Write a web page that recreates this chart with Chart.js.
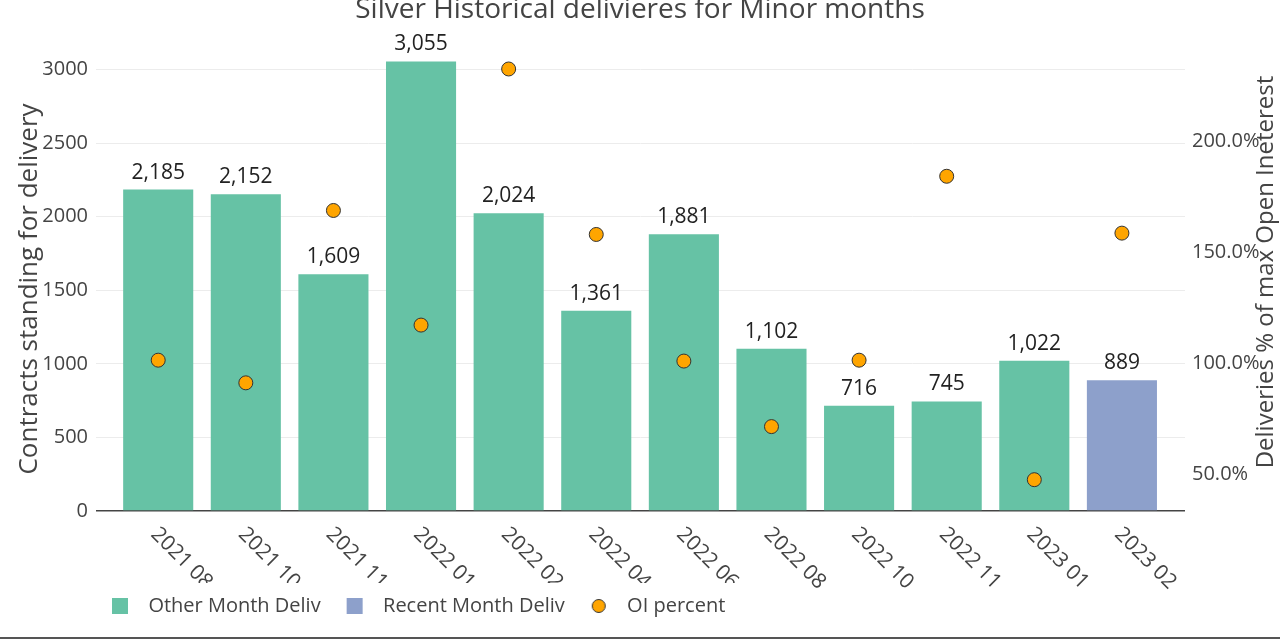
<!DOCTYPE html>
<html>
<head>
<meta charset="utf-8">
<script src="https://cdn.jsdelivr.net/npm/chart.js@4.4.0/dist/chart.umd.min.js"></script>
<style>
  html, body { margin: 0; padding: 0; background: #fff; }
  #wrap { position: relative; width: 1280px; height: 641px; }
  #bottomLine { position: absolute; left: 0; top: 637px; width: 1280px; height: 2px; background: #555; }
</style>
</head>
<body>
<div id="wrap">
  <canvas id="myChart" width="1280" height="641"></canvas>
  <div id="bottomLine"></div>
</div>
<script>
const months = ['2021 08', '2021 10', '2021 11', '2022 01', '2022 02', '2022 04',
                '2022 06', '2022 08', '2022 10', '2022 11', '2023 01', '2023 02'];
const otherDeliv = [2185, 2152, 1609, 3055, 2024, 1361, 1881, 1102, 716, 745, 1022, null];
const recentDeliv = [null, null, null, null, null, null, null, null, null, null, null, 889];
const oiPercent = [101.4, 91.2, 168.8, 117.2, 232.5, 158.0, 101.0, 71.5, 101.4, 184.2, 47.6, 158.6];
const leftTicks = [0, 500, 1000, 1500, 2000, 2500, 3000];
const rightTicks = [50, 100, 150, 200];

const FONT = '"Open Sans", "Noto Sans", sans-serif';
const GREEN = '#66c2a5';
const BLUE = '#8da0cb';
const ORANGE = '#ffa500';
const LEFT_TITLE = 'Contracts standing for delivery';
const RIGHT_TITLE = 'Deliveries % of max Open Ineterest';

// points for linear x axis
const toXY = arr => arr.map((v, i) => ({ x: i, y: v }));

// legend marker for the OI dots
const dotImg = document.createElement('canvas');
dotImg.width = 16; dotImg.height = 16;
(function () {
  const c = dotImg.getContext('2d');
  c.beginPath();
  c.arc(8, 8, 6.5, 0, Math.PI * 2);
  c.fillStyle = ORANGE;
  c.fill();
  c.lineWidth = 1;
  c.strokeStyle = '#333';
  c.stroke();
})();

// value labels above bars
const barLabels = {
  id: 'barLabels',
  afterDatasetsDraw(chart) {
    const ctx = chart.ctx;
    ctx.save();
    ctx.font = '21px ' + FONT;
    ctx.fillStyle = '#222';
    ctx.textAlign = 'center';
    ctx.textBaseline = 'middle';
    chart.data.datasets.forEach((ds, di) => {
      if (ds.type !== 'bar') return;
      const meta = chart.getDatasetMeta(di);
      meta.data.forEach((el, i) => {
        const v = ds.data[i].y;
        if (v == null) return;
        ctx.fillText(v.toLocaleString('en-US'), el.x, el.y - 17);
      });
    });
    ctx.restore();
  }
};

// rotated month labels under the axis (clipped under the legend like the original)
// plus both axis titles, reading bottom-to-top
const extraText = {
  id: 'extraText',
  afterDraw(chart) {
    const ctx = chart.ctx;
    const xs = chart.scales.x;
    const lg = chart.legend;
    const ca = chart.chartArea;
    const boxes = lg.legendHitBoxes;
    const last = boxes[boxes.length - 1];
    ctx.save();
    ctx.beginPath();
    ctx.rect(0, 0, chart.width, chart.height);
    ctx.rect(0, lg.top + 13, last.left + last.width + 12, chart.height);
    ctx.clip('evenodd');
    ctx.font = '21px ' + FONT;
    ctx.fillStyle = '#444';
    ctx.textAlign = 'left';
    ctx.textBaseline = 'middle';
    months.forEach((m, i) => {
      ctx.save();
      ctx.translate(xs.getPixelForValue(i) - 4, ca.bottom + 20);
      ctx.rotate(Math.PI / 4);
      ctx.fillText(m, 0, 0);
      ctx.restore();
    });
    ctx.restore();

    const drawTitle = (text, size, x, y) => {
      ctx.save();
      ctx.font = size + 'px ' + FONT;
      ctx.fillStyle = '#444';
      ctx.textAlign = 'center';
      ctx.textBaseline = 'middle';
      ctx.translate(x, y);
      ctx.rotate(-Math.PI / 2);
      ctx.fillText(text, 0, 0);
      ctx.restore();
    };
    const mid = (ca.top + ca.bottom) / 2;
    drawTitle(LEFT_TITLE, 26, chart.scales.y.left + 30, mid + 14);
    drawTitle(RIGHT_TITLE, 24, chart.scales.y1.right - 14, mid - 3);
  }
};

// move legend to start under the plot
const legendShift = {
  id: 'legendShift',
  afterLayout(chart) {
    const lg = chart.legend;
    const d = chart.chartArea.left + 16 - (lg.left + lg.options.labels.padding);
    lg.left += d;
    lg.right += d;
  }
};

const data = {
  datasets: [
    {
      type: 'scatter',
      label: 'OI percent',
      data: toXY(oiPercent),
      yAxisID: 'y1',
      backgroundColor: ORANGE,
      borderColor: '#333',
      borderWidth: 1,
      pointRadius: 7,
      pointHoverRadius: 7,
      order: 0
    },
    {
      type: 'bar',
      label: 'Other Month Deliv',
      data: toXY(otherDeliv),
      yAxisID: 'y',
      backgroundColor: GREEN,
      grouped: false,
      barPercentage: 0.8,
      categoryPercentage: 1.0,
      order: 1
    },
    {
      type: 'bar',
      label: 'Recent Month Deliv',
      data: toXY(recentDeliv),
      yAxisID: 'y',
      backgroundColor: BLUE,
      grouped: false,
      barPercentage: 0.8,
      categoryPercentage: 1.0,
      order: 1
    }
  ]
};

const config = {
  type: 'bar',
  data: data,
  plugins: [barLabels, extraText, legendShift],
  options: {
    responsive: false,
    animation: false,
    layout: { padding: { left: 0, right: 0, top: 0, bottom: 15 } },
    plugins: {
      tooltip: { enabled: false },
      title: {
        display: true,
        text: 'Silver Historical delivieres for Minor months',
        color: '#444',
        font: { family: FONT, size: 28, weight: 'normal', lineHeight: 0.75 },
        padding: { top: 0, bottom: 18 }
      },
      legend: {
        position: 'bottom',
        align: 'start',
        labels: {
          color: '#444',
          font: { family: FONT, size: 20 },
          usePointStyle: true,
          boxWidth: 16,
          boxHeight: 16,
          padding: 26,
          generateLabels(chart) {
            const items = Chart.defaults.plugins.legend.labels.generateLabels(chart);
            items.sort((a, b) => a.datasetIndex - b.datasetIndex);
            items.forEach(it => {
              it.text = '  ' + it.text;
              it.pointStyle = it.datasetIndex === 0 ? dotImg : 'rect';
              it.lineWidth = 0;
            });
            // bars first, dots last
            return items.slice(1).concat(items.slice(0, 1));
          }
        }
      }
    },
    scales: {
      x: {
        type: 'linear',
        min: -0.71,
        max: 11.72,
        offset: false,
        afterBuildTicks(scale) { scale.ticks = months.map((m, i) => ({ value: i })); },
        grid: { display: false },
        border: { display: false },
        ticks: { display: false },
        afterFit(scale) { scale.height = 59; }
      },
      y: {
        position: 'left',
        min: 0,
        max: 3208,
        afterBuildTicks(scale) { scale.ticks = leftTicks.map(v => ({ value: v })); },
        afterFit(scale) { scale.width = 96; },
        grid: {
          drawTicks: false,
          color: ctx => ctx.tick && ctx.tick.value === 0 ? '#444' : '#ececec',
          lineWidth: ctx => ctx.tick && ctx.tick.value === 0 ? 1.5 : 1
        },
        border: { display: false },
        ticks: {
          color: '#444',
          font: { family: FONT, size: 20 },
          padding: 8,
          callback: v => String(v)
        }
      },
      y1: {
        position: 'right',
        min: 33.5,
        max: 246,
        afterBuildTicks(scale) { scale.ticks = rightTicks.map(v => ({ value: v })); },
        afterFit(scale) { scale.width = 95; },
        grid: { display: false, drawTicks: false },
        border: { display: false },
        ticks: {
          color: '#444',
          font: { family: FONT, size: 20 },
          padding: 7,
          callback: v => v.toFixed(1) + '%'
        }
      }
    }
  }
};

new Chart(document.getElementById('myChart'), config);
</script>
</body>
</html>
